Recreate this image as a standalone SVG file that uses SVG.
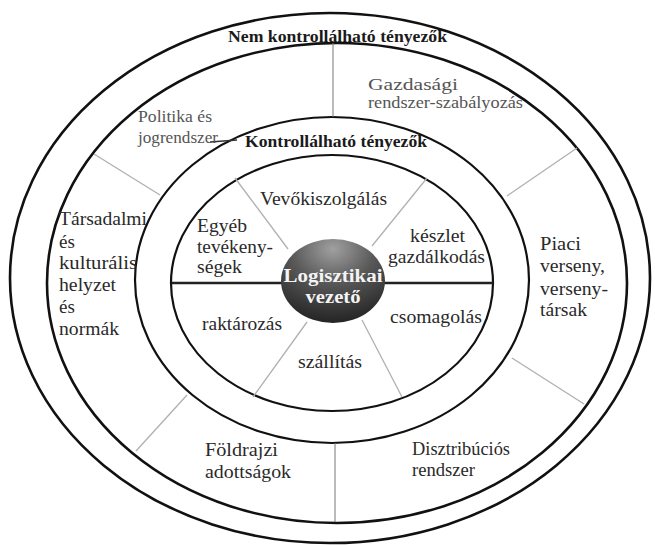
<svg xmlns="http://www.w3.org/2000/svg" width="655" height="545" viewBox="0 0 655 545">
<defs>
<radialGradient id="hub" cx="50%" cy="12%" r="90%">
<stop offset="0%" stop-color="#a0a0a0"/>
<stop offset="45%" stop-color="#585858"/>
<stop offset="100%" stop-color="#222"/>
</radialGradient>
<style>
.ring{fill:none;stroke:#111;stroke-width:2.6}
.ring2{fill:none;stroke:#111;stroke-width:2.2}
.spoke{stroke:#b0b0b0;stroke-width:1.3;fill:none}
.vspoke{stroke:#777;stroke-width:1;fill:none}
.axis{stroke:#222;stroke-width:2.6}
.lbl{font-size:19px;fill:#2a2a2a}
.sm{font-size:16px;fill:#555}
.hd{font-size:16px;font-weight:bold;fill:#1a1a1a}
.hub{font-size:18px;font-weight:bold;fill:#f4f4f4}
</style>
</defs>
<rect width="655" height="545" fill="#fff"/>

<g id="rings">
<ellipse class="ring" cx="330" cy="278" rx="320" ry="265"/>
<ellipse class="ring" cx="337" cy="283" rx="290" ry="240"/>
<ellipse class="ring2" cx="332" cy="280" rx="197" ry="163"/>
<ellipse class="ring2" cx="332" cy="283" rx="161" ry="128"/>
</g>

<g id="connectors">
<line class="vspoke" x1="333" y1="43" x2="333" y2="117"/>
<line class="spoke" x1="94" y1="154" x2="160" y2="195"/>
<line class="spoke" x1="577" y1="148" x2="507" y2="196"/>
<line class="spoke" x1="512" y1="358" x2="584" y2="404"/>
<line class="spoke" x1="187" y1="395" x2="136" y2="451"/>
<line class="vspoke" x1="335" y1="443" x2="335" y2="522"/>
<line class="spoke" x1="235" y1="178" x2="288" y2="249"/>
<line class="spoke" x1="427" y1="178" x2="372" y2="246"/>
<line class="spoke" x1="307" y1="322" x2="253" y2="397"/>
<line class="spoke" x1="362" y1="320" x2="402" y2="397"/>
<line class="axis" x1="172" y1="283" x2="282" y2="283"/>
<line class="axis" x1="384" y1="283" x2="493" y2="283"/>
<line stroke="#333" stroke-width="1.5" x1="210" y1="142" x2="237" y2="140"/>
</g>

<g font-family="Liberation Serif, serif">
<g id="hub-node">
<ellipse cx="333" cy="281" rx="52" ry="42" fill="url(#hub)"/>
<text class="hub" x="333" y="282" text-anchor="middle" textLength="99" lengthAdjust="spacingAndGlyphs">Logisztikai</text>
<text class="hub" x="333" y="303" text-anchor="middle" textLength="55" lengthAdjust="spacingAndGlyphs">vezető</text>
</g>

<g id="heading-outer">
<text class="hd" x="228" y="42" textLength="219" lengthAdjust="spacingAndGlyphs">Nem kontrollálható tényezők</text>
</g>
<g id="heading-inner">
<text class="hd" x="245" y="147" textLength="182" lengthAdjust="spacingAndGlyphs">Kontrollálható tényezők</text>
</g>

<g id="gazdasagi">
<text class="sm" x="368" y="90" textLength="90" lengthAdjust="spacingAndGlyphs">Gazdasági</text>
<text class="sm" x="368" y="108" textLength="155" lengthAdjust="spacingAndGlyphs">rendszer-szabályozás</text>
</g>
<g id="politika">
<text class="sm" x="138" y="122" textLength="74" lengthAdjust="spacingAndGlyphs">Politika és</text>
<text class="sm" x="138" y="143" textLength="80" lengthAdjust="spacingAndGlyphs">jogrendszer</text>
</g>
<g id="tarsadalmi">
<text class="lbl" x="59" y="225" textLength="88" lengthAdjust="spacingAndGlyphs">Társadalmi</text>
<text class="lbl" x="59" y="248">és</text>
<text class="lbl" x="59" y="269" textLength="78" lengthAdjust="spacingAndGlyphs">kulturális</text>
<text class="lbl" x="59" y="291" textLength="57" lengthAdjust="spacingAndGlyphs">helyzet</text>
<text class="lbl" x="59" y="313">és</text>
<text class="lbl" x="59" y="335" textLength="60" lengthAdjust="spacingAndGlyphs">normák</text>
</g>
<g id="piaci">
<text class="lbl" x="540" y="250" textLength="41" lengthAdjust="spacingAndGlyphs">Piaci</text>
<text class="lbl" x="540" y="272" textLength="65" lengthAdjust="spacingAndGlyphs">verseny,</text>
<text class="lbl" x="540" y="295" textLength="68" lengthAdjust="spacingAndGlyphs">verseny-</text>
<text class="lbl" x="540" y="316" textLength="47" lengthAdjust="spacingAndGlyphs">társak</text>
</g>
<g id="disztribucios">
<text class="lbl" x="412" y="455" textLength="98" lengthAdjust="spacingAndGlyphs">Disztribúciós</text>
<text class="lbl" x="412" y="476" textLength="63" lengthAdjust="spacingAndGlyphs">rendszer</text>
</g>
<g id="foldrajzi">
<text class="lbl" x="205" y="456" textLength="73" lengthAdjust="spacingAndGlyphs">Földrajzi</text>
<text class="lbl" x="205" y="478" textLength="86" lengthAdjust="spacingAndGlyphs">adottságok</text>
</g>

<g id="vevokiszolgalas">
<text class="lbl" x="260" y="205" textLength="127" lengthAdjust="spacingAndGlyphs">Vevőkiszolgálás</text>
</g>
<g id="egyeb">
<text class="lbl" x="197" y="232" textLength="50" lengthAdjust="spacingAndGlyphs">Egyéb</text>
<text class="lbl" x="197" y="253" textLength="76" lengthAdjust="spacingAndGlyphs">tevékeny-</text>
<text class="lbl" x="197" y="273" textLength="45" lengthAdjust="spacingAndGlyphs">ségek</text>
</g>
<g id="keszlet">
<text class="lbl" x="410" y="242" textLength="55" lengthAdjust="spacingAndGlyphs">készlet</text>
<text class="lbl" x="388" y="263" textLength="97" lengthAdjust="spacingAndGlyphs">gazdálkodás</text>
</g>
<g id="csomagolas">
<text class="lbl" x="390" y="323" textLength="92" lengthAdjust="spacingAndGlyphs">csomagolás</text>
</g>
<g id="raktarozas">
<text class="lbl" x="202" y="330" textLength="80" lengthAdjust="spacingAndGlyphs">raktározás</text>
</g>
<g id="szallitas">
<text class="lbl" x="298" y="368" textLength="64" lengthAdjust="spacingAndGlyphs">szállítás</text>
</g>
</g>
</svg>
